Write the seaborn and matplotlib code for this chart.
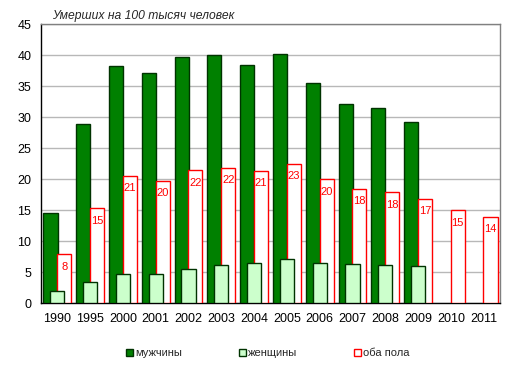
import matplotlib
matplotlib.use("Agg")
import matplotlib.pyplot as plt
from matplotlib.patches import Patch
import seaborn as sns
import pandas as pd
import numpy as np

years = ["1990", "1995", "2000", "2001", "2002", "2003", "2004", "2005",
         "2006", "2007", "2008", "2009", "2010", "2011"]
men = [14.5, 28.9, 38.2, 37.1, 39.7, 40.0, 38.5, 40.2, 35.5, 32.2, 31.5, 29.2, None, None]
women = [2.0, 3.4, 4.7, 4.8, 5.6, 6.1, 6.45, 7.1, 6.45, 6.3, 6.1, 6.0, None, None]
both = [7.9, 15.3, 20.5, 19.8, 21.45, 21.8, 21.3, 22.5, 20.0, 18.4, 17.9, 16.8, 15.0, 13.9]
both_labels = ["8", "15", "21", "20", "22", "22", "21", "23", "20", "18", "18", "17", "15", "14"]
series_names = ["мужчины", "женщины", "оба пола"]
title = "Умерших на 100 тысяч человек"

sns.set_style("white")
plt.rcParams["font.family"] = ["Liberation Sans", "DejaVu Sans"]

fig = plt.figure(figsize=(5.17, 3.73), dpi=100)
ax = fig.add_axes([41 / 517, 1 - 303.3 / 373, (500 - 41) / 517, (303.3 - 24.3) / 373])

idx = np.arange(len(years))
offsets = [-0.21, 0.0, 0.21]
width = 0.43
styles = [
    dict(color="#008000", edgecolor="#003300"),
    dict(color="#ccffcc", edgecolor="#003300"),
    dict(color="white", edgecolor="#ff0000"),
]
zorders = [3, 5, 4]
# draw order: men, both, women (women sits on top)
for k in [0, 2, 1]:
    vals, off, st = [men, women, both][k], offsets[k], styles[k]
    df = pd.DataFrame({"pos": idx + off, "val": vals}).dropna()
    sns.barplot(data=df, x="pos", y="val", native_scale=True, width=width,
                errorbar=None, saturation=1, linewidth=1.0, ax=ax, zorder=zorders[k], **st)

for i, (v, lab) in enumerate(zip(both, both_labels)):
    ax.annotate(lab, (idx[i] + offsets[2], v), xytext=(0, -8.8), textcoords="offset points",
                ha="center", va="center", color="#ff0000", fontsize=8, zorder=6)

ax.set_xlim(-0.5, len(years) - 0.5)
ax.set_ylim(0, 45)
ax.set_yticks(range(0, 46, 5))
ax.set_xticks(idx)
ax.set_xticklabels(years)
ax.set_xlabel("")
ax.set_ylabel("")
ax.tick_params(axis="both", labelsize=9, length=0, colors="black")
ax.tick_params(axis="y", pad=7)
ax.tick_params(axis="x", pad=7)
ax.yaxis.grid(True, color="#b8b8b8", linewidth=1.0, zorder=0)
ax.set_axisbelow(True)
for s in ["left", "bottom"]:
    ax.spines[s].set_color("black")
    ax.spines[s].set_linewidth(1.0)
for s in ["top", "right"]:
    ax.spines[s].set_color("#808080")
    ax.spines[s].set_linewidth(1.0)
    ax.spines[s].set_visible(True)

fig.text(52 / 517, 1 - 15.7 / 373, title, fontsize=8.7, style="italic", va="center", ha="left")

handles = [Patch(facecolor=st["color"], edgecolor=st["edgecolor"], linewidth=1.0) for st in styles]
fig.legend(handles, series_names, loc="center", bbox_to_anchor=(268 / 517, 1 - 353 / 373),
           ncol=3, frameon=False, fontsize=8, handlelength=0.6, handleheight=0.6,
           handletextpad=0.2, columnspacing=5.15)

fig.savefig("out.png", dpi=100)
